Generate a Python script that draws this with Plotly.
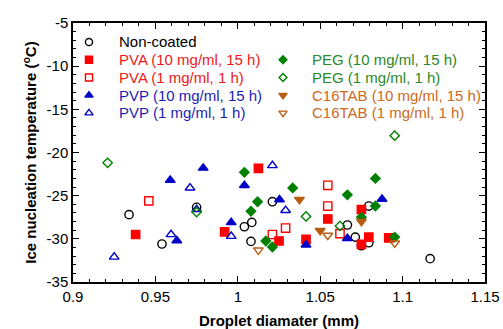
import plotly.graph_objects as go

# ---- data (droplet diameter mm, ice nucleation temperature °C) ----
nc_x = [0.934, 0.954, 0.975, 1.004, 1.0085, 1.008, 1.021, 1.0665, 1.0713, 1.075, 1.0795, 1.0795, 1.1167]
nc_y = [-27.2, -30.6, -26.35, -28.6, -28.1, -30.3, -25.7, -28.4, -29.8, -30.8, -30.45, -26.2, -32.3]

pva10_x = [0.938, 0.992, 1.0125, 1.025, 1.0414, 1.0546, 1.075, 1.075, 1.0795, 1.0916]
pva10_y = [-29.5, -29.2, -21.85, -30.25, -30.05, -27.7, -26.6, -30.65, -29.8, -29.9]

pva1_x = [0.946, 1.021, 1.029, 1.0546, 1.0546, 1.062]
pva1_y = [-25.6, -29.5, -28.75, -23.8, -26.2, -29.4]

pvp10_x = [0.959, 0.963, 0.979, 0.996, 1.004, 1.0253, 1.0414, 1.0665, 1.0875]
pvp10_y = [-23.2, -30.2, -21.8, -28.1, -23.8, -25.45, -30.7, -29.95, -25.4]

pvp1_x = [0.925, 0.9595, 0.971, 0.975, 0.996, 1.021, 1.029]
pvp1_y = [-32.1, -29.5, -24.1, -26.6, -29.7, -21.5, -26.7]

peg10_x = [1.004, 1.012, 1.008, 1.017, 1.021, 1.0333, 1.0665, 1.075, 1.0835, 1.0835, 1.0952]
peg10_y = [-22.3, -25.7, -26.8, -30.25, -30.95, -24.1, -24.9, -27.5, -23.0, -26.2, -29.8]

peg1_x = [0.921, 0.975, 1.0414, 1.062, 1.0952]
peg1_y = [-21.2, -26.9, -27.4, -28.5, -18.05]

c16_10_x = [1.0374, 1.050, 1.075]
c16_10_y = [-25.45, -29.05, -28.0]

c16_1_x = [1.0125, 1.0546, 1.0952]
c16_1_y = [-31.3, -29.6, -30.5]

x_ticks = [0.9, 0.95, 1.0, 1.05, 1.1, 1.15]
x_tick_labels = ["0.9", "0.95", "1", "1.05", "1.1", "1.15"]
y_ticks = [-35, -30, -25, -20, -15, -10, -5]
y_tick_labels = ["-35", "-30", "-25", "-20", "-15", "-10", "-5"]

RED = "#ff0000"
BLUE = "#0000c8"
GREEN = "#008000"
BROWN = "#b85c10"
FONT = "Arial, Liberation Sans, sans-serif"

series = [
    # name, x, y, symbol, color, text color
    ("Non-coated", nc_x, nc_y, "circle-open", "#000000", "#000000"),
    ("PVA (10 mg/ml, 15 h)", pva10_x, pva10_y, "square", RED, "#f01818"),
    ("PVA (1 mg/ml, 1 h)", pva1_x, pva1_y, "square-open", RED, "#f01818"),
    ("PVP (10 mg/ml, 15 h)", pvp10_x, pvp10_y, "triangle-up", BLUE, "#1c1cb4"),
    ("PVP (1 mg/ml, 1 h)", pvp1_x, pvp1_y, "triangle-up-open", BLUE, "#1c1cb4"),
    ("PEG (10 mg/ml, 15 h)", peg10_x, peg10_y, "diamond", GREEN, "#2a8a2a"),
    ("PEG (1 mg/ml, 1 h)", peg1_x, peg1_y, "diamond-open", GREEN, "#2a8a2a"),
    ("C16TAB (10 mg/ml, 15 h)", c16_10_x, c16_10_y, "triangle-down", BROWN, "#cc6a22"),
    ("C16TAB (1 mg/ml, 1 h)", c16_1_x, c16_1_y, "triangle-down-open", BROWN, "#cc6a22"),
]

W, H = 503, 329
ML, MR, MT, MB = 73, 18, 23, 47
PW, PH = W - ML - MR, H - MT - MB
X_RANGE = [0.9, 1.15]
Y_RANGE = [-35, -5]

def marker_size(sym):
    if sym.startswith("triangle"):
        return 8.5
    if sym.startswith("diamond"):
        return 7.2
    return 8.3

fig = go.Figure()
for name, xs, ys, sym, col, _ in series:
    fig.add_trace(go.Scatter(
        x=xs, y=ys, mode="markers", name=name, showlegend=False,
        marker=dict(symbol=sym, size=marker_size(sym), color=col,
                    line=dict(color=col, width=1.4)),
    ))

# ---- hand-built two-column legend: keys placed by pixel layout -> axis units ----
def px_to_x(px):
    return X_RANGE[0] + (px - ML) / PW * (X_RANGE[1] - X_RANGE[0])

def px_to_y(py):
    return Y_RANGE[1] - (py - MT) / PH * (Y_RANGE[1] - Y_RANGE[0])

row_px0, row_dy = 42, 17.75
col_key_px = [89, 283]
col_txt_px = [117, 310]
slots = [(0, 0), (0, 1), (0, 2), (0, 3), (0, 4), (1, 1), (1, 2), (1, 3), (1, 4)]
annotations = []
for (name, xs, ys, sym, col, tcol), (c, r) in zip(series, slots):
    py = row_px0 + r * row_dy
    fig.add_trace(go.Scatter(
        x=[px_to_x(col_key_px[c])], y=[px_to_y(py)], mode="markers", showlegend=False,
        hoverinfo="skip",
        marker=dict(symbol=sym, size=marker_size(sym) - 1.2, color=col,
                    line=dict(color=col, width=1.4)),
    ))
    annotations.append(dict(
        x=(col_txt_px[c] - ML) / PW, y=1 - (py - MT) / PH, xref="paper", yref="paper",
        text=name, showarrow=False,
        xanchor="left", yanchor="middle", font=dict(family=FONT, size=15, color=tcol),
    ))

axis_common = dict(
    showgrid=False, zeroline=False, showline=True, linecolor="black", linewidth=1.5,
    mirror="allticks", ticks="inside", ticklen=6, tickwidth=1.2, tickcolor="black",
    tickfont=dict(family=FONT, size=15, color="black"),
)

fig.update_layout(
    width=W, height=H,
    margin=dict(l=ML, r=MR, t=MT, b=MB, autoexpand=False),
    paper_bgcolor="white", plot_bgcolor="white",
    xaxis=dict(range=X_RANGE, tickvals=x_ticks, ticktext=x_tick_labels,
               minor=dict(dtick=0.01, ticks="inside", ticklen=3.5, tickwidth=1, tickcolor="black"),
               title=dict(text="<b>Droplet diamater (mm)</b>", font=dict(family=FONT, size=15, color="black"),
                          standoff=12),
               **axis_common),
    yaxis=dict(range=Y_RANGE, tickvals=y_ticks, ticktext=y_tick_labels,
               minor=dict(dtick=1, ticks="inside", ticklen=3.5, tickwidth=1, tickcolor="black"),
               title=dict(text="<b>Ice nucleation temperature (<sup>o</sup>C)</b>",
                          font=dict(family=FONT, size=15, color="black"), standoff=6),
               **axis_common),
    annotations=annotations,
)

fig.write_html("out.html", config={"displayModeBar": False},
               post_script="document.body.style.margin='0px';")
